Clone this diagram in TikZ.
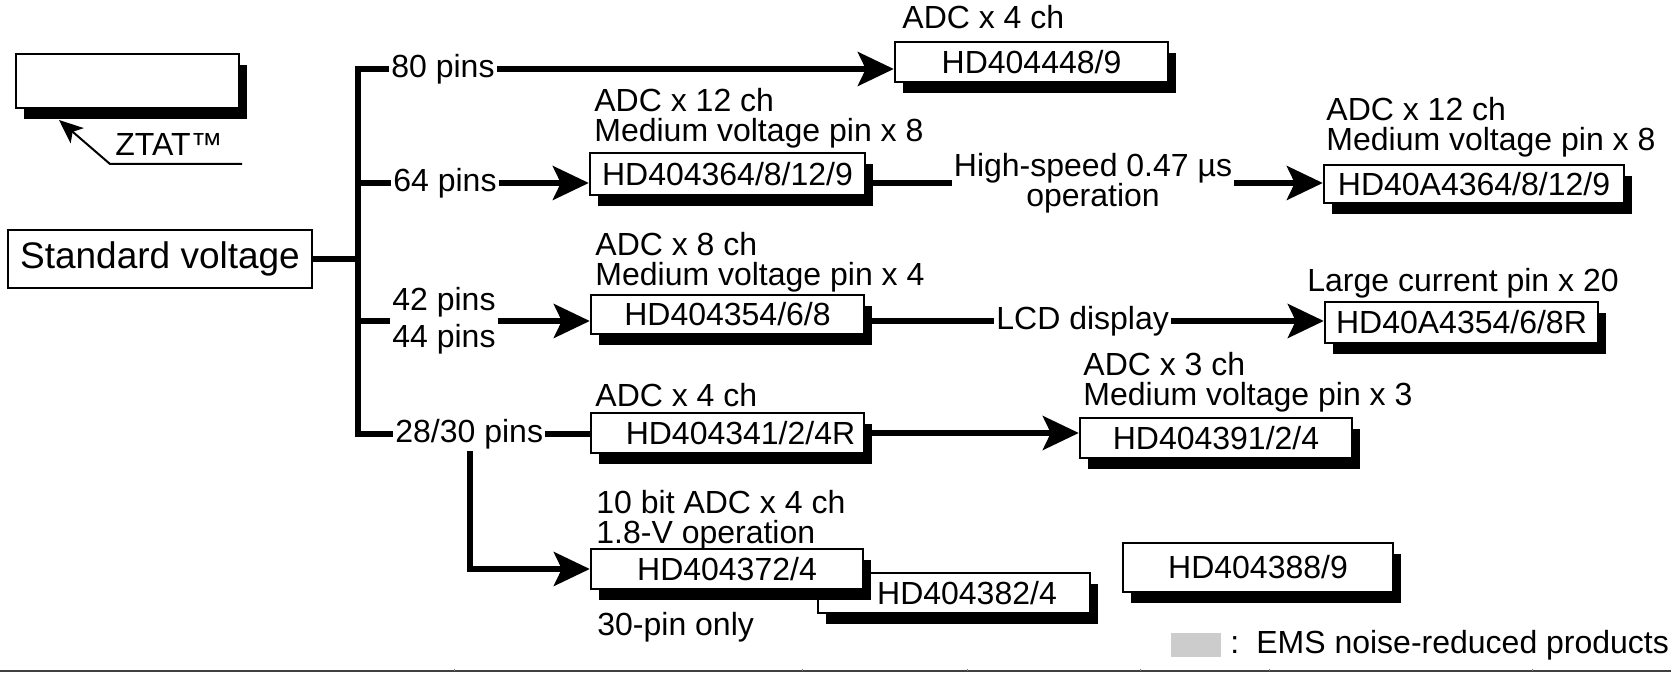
\documentclass[tikz,border=0pt]{standalone}
\usepackage{fontspec}
\setmainfont{Liberation Sans}
\usepackage{tikz}
\usetikzlibrary{positioning, arrows.meta, shadows}

\tikzset{
    chip/.style={draw, line width=1.2pt, fill=white, minimum width=136.5pt, minimum height=20pt, inner sep=0pt,
        drop shadow={shadow xshift=4pt, shadow yshift=-5.5pt, fill=black, opacity=1}},
    note/.style={align=left, inner sep=1pt, anchor=south west},
    pins/.style={anchor=west, inner sep=1pt},
    conn/.style={line width=2.7pt},
    go/.style={conn, -{Stealth[length=18pt, width=17pt, inset=4pt]}},
}

\begin{document}
\begin{tikzpicture}[x=0.5pt, y=-0.5pt, font=\fontsize{16}{15}\selectfont]
    \useasboundingbox (0,0) rectangle (1671,673);

    % Legenda ZTAT
    \node[chip, minimum width=111.5pt, minimum height=27pt] (zbox) at (127.5,81) {};
    \node[anchor=base west, inner sep=0pt] (ztat) at (115,156) {ZTAT™};
    \coordinate (zk) at (110,164);
    \coordinate (zend) at (242,164);
    \coordinate (ztip) at (59,120);
    \draw[line width=1pt, -{Stealth[length=12pt, width=10pt, inset=3pt]}] (zend) -- (zk) -- (ztip);

    % Tensione standard e pin
    \node[draw, line width=1.2pt, minimum width=152pt, minimum height=29pt, font=\fontsize{18.5}{20}\selectfont] (std) at (160,259) {Standard voltage};
    \node[pins] (p80) at (389,69) {80 pins};
    \node[pins] (p64) at (391,183) {64 pins};
    \node[pins, align=left, font=\fontsize{16}{18.5}\selectfont] (p42) at (390,321) {42 pins\\44 pins};
    \node[pins] (p28) at (393,434) {28/30 pins};

    % Prodotti
    \node[chip] (hd448) at (1031.5,62) {HD404448/9};
    \node[chip, minimum width=137.5pt, minimum height=21pt] (hd364) at (727.5,174) {HD404364/8/12/9};
    \node[chip, minimum width=150pt, minimum height=19pt] (hdA364) at (1474,184) {HD40A4364/8/12/9};
    \node[chip, minimum height=19.5pt] (hd354) at (727.5,314.5) {HD404354/6/8};
    \node[chip, minimum height=20.5pt] (hdA354) at (1461.5,322.5) {HD40A4354/6/8R};
    \node[chip] (hd341) at (727.5,433) {\hspace*{13pt}HD404341/2/4R};
    \node[chip, minimum width=136pt] (hd391) at (1216,438) {HD404391/2/4};
    \node[chip, minimum width=136pt] (hd382) at (954,593) {\hspace*{13pt}HD404382/4};
    \node[chip, minimum width=136pt] (hd372) at (727,569) {HD404372/4};
    \node[chip, minimum width=135pt, minimum height=24.5pt] (hd388) at (1258,567.5) {HD404388/9};

    % Note sopra i riquadri
    \node[note] (n448) at (900,31) {ADC x 4 ch};
    \node[note] (n364) at (592,151) {ADC x 12 ch\\Medium voltage pin x 8};
    \node[note] (nA364) at (1324,160) {ADC x 12 ch\\Medium voltage pin x 8};
    \node[note] (n354) at (593,295) {ADC x 8 ch\\Medium voltage pin x 4};
    \node[note] (nA354) at (1305,301) {Large current pin x 20};
    \node[note] (n341) at (593,409) {ADC x 4 ch};
    \node[note] (n391) at (1081,415) {ADC x 3 ch\\Medium voltage pin x 3};
    \node[note] (n372) at (594,553) {10 bit ADC x 4 ch\\1.8-V operation};
    \node[note] (n30) at (595,645) {30-pin only};
    \node[align=center, inner sep=1pt] (hs) at (1093,183) {High-speed 0.47 µs\\operation};
    \node[pins] (lcd) at (994,321) {LCD display};

    % Tronco e rami
    \coordinate (trunk) at (358,0);
    \draw[conn] (std.east) -- (std.east -| trunk);
    \draw[conn, line cap=rect] (trunk |- p80.west) -- (trunk |- p28.west);
    \foreach \p in {p80,p64,p42,p28} \draw[conn] (trunk |- \p.west) -- (\p.west);

    % Frecce
    \draw[go] (p80.east) -- (p80.east -| hd448.west);
    \draw[go] (p64.east) -- (p64.east -| hd364.west);
    \draw[go] (p42.east) -- (p42.east -| hd354.west);
    \draw[conn] (p28.east) -- (p28.east -| hd341.west);
    \draw[conn] (hs.west -| hd364.east) -- (hs.west);
    \draw[go] (hs.east) -- (hs.east -| hdA364.west);
    \draw[conn] (lcd.west -| hd354.east) -- (lcd.west);
    \draw[go] (lcd.east) -- (lcd.east -| hdA354.west);
    \draw[go] (hd341.east) -- (hd341.east -| hd391.west);
    \coordinate (drop) at (470,0);
    \draw[go] (drop |- p28.south) |- (hd372.west);

    % Legenda EMS
    \node[fill=black!20, minimum width=25pt, minimum height=12pt, inner sep=0pt] (legsq) at (1196,645) {};
    \node[anchor=base west, inner sep=0pt] (legtxt) at (1230,653) {:\hspace{8.5pt}EMS noise-reduced products};

    % Riga in fondo
    \draw[black!75, line width=1pt] (0,671) -- (1671,671);
    \foreach \x in {454,802,967,1140,1269,1532} \draw[black!50, line width=0.5pt] (\x,671) -- (\x,668.5);
\end{tikzpicture}
\end{document}
